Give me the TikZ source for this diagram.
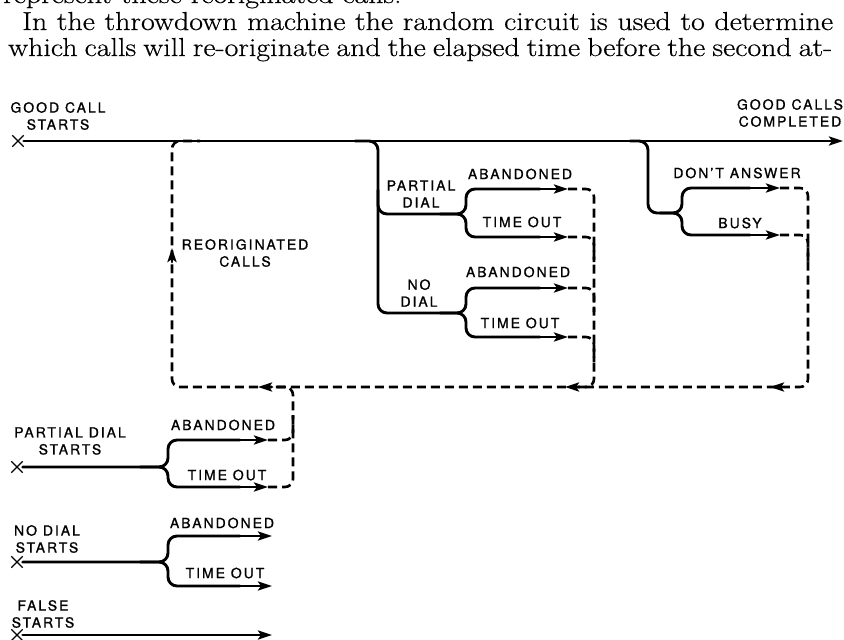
\documentclass[tikz,border=0pt]{standalone}
\usepackage{fontspec}
\newfontfamily\lab[LetterSpace=14,FakeBold=1.0]{TeX Gyre Heros}
\newfontfamily\bodyfont[FakeStretch=1.15,FakeBold=0.5]{Latin Modern Roman}
\usetikzlibrary{arrows.meta,shapes.misc}
\tikzset{
  solidline/.style={line width=2.9pt, line join=round, line cap=round},
  dashline/.style={line width=2.6pt, dash pattern=on 9pt off 5pt, rounded corners=8pt},
  tip/.style={-{Stealth[length=14pt,width=9pt,inset=3pt]}},
  lbl/.style={font=\lab\fontsize{14pt}{17pt}\selectfont, align=center, inner sep=0pt},
  xmark/.style={cross out, draw, minimum size=10pt, inner sep=0pt, line width=1.4pt},
  body/.style={anchor=base west, inner sep=0pt, font=\bodyfont\fontsize{26pt}{27pt}\selectfont}
}
\begin{document}
\begin{tikzpicture}[x=1pt,y=-1pt]
\useasboundingbox (0,0) rectangle (844,640);
\clip (0,0) rectangle (844,640);
% body text
\node[body] (t0) at (3,3) {represent these reoriginated calls.};
\node[body] (t1) at (22,30) {\makebox[811pt][s]{In the throwdown machine the random circuit is used to determine}};
\node[body] (t2) at (8,56) {\makebox[824pt][s]{which calls will re-originate and the elapsed time before the second at-}};

% ---------- main line ----------
\node[xmark] (x1) at (18,141) {};
\coordinate (gend) at (843,141);
\draw[solidline, tip] (x1.east) -- (gend);
\node[lbl] (lgs) at (58,116) {GOOD CALL\\STARTS};
\node[lbl] (lgc) at (790,113) {GOOD CALLS\\COMPLETED};

% ---------- middle branch ----------
\coordinate (pa) at (568,189);
\coordinate (pt) at (568,237);
\coordinate (na) at (568,288);
\coordinate (nt) at (568,337);
\draw[solidline, rounded corners=9pt] (355,141) -- (378,141) -- (378,313) -- (466,313) -- (466,288) -- (540,288);
\draw[solidline, tip] (530,288) -- (na);
\draw[solidline, rounded corners=9pt] (440,313) -- (466,313) -- (466,337) -- (540,337);
\draw[solidline, tip] (530,337) -- (nt);
\draw[solidline, rounded corners=9pt] (378,190) -- (378,214) -- (466,214) -- (466,189) -- (540,189);
\draw[solidline, tip] (530,189) -- (pa);
\draw[solidline, rounded corners=9pt] (440,214) -- (466,214) -- (466,237) -- (540,237);
\draw[solidline, tip] (530,237) -- (pt);
\node[lbl] (lpd) at (421,194) {PARTIAL\\DIAL};
\node[lbl] (lpa) at (520,174) {ABANDONED};
\node[lbl] (lpt) at (522,222) {TIME OUT};
\node[lbl] (lnd) at (419,293) {NO\\DIAL};
\node[lbl] (lna) at (518,272) {ABANDONED};
\node[lbl] (lnt) at (520,323) {TIME OUT};

% ---------- right branch ----------
\coordinate (da) at (780,188);
\coordinate (bu) at (780,235);
\draw[solidline, rounded corners=9pt] (630,141) -- (648,141) -- (648,213) -- (682,213) -- (682,188) -- (750,188);
\draw[solidline, tip] (740,188) -- (da);
\draw[solidline, rounded corners=9pt] (660,213) -- (682,213) -- (682,235) -- (750,235);
\draw[solidline, tip] (740,235) -- (bu);
\node[lbl] (lda) at (737,173) {DON’T ANSWER};
\node[lbl] (lbu) at (740,223) {BUSY};

% ---------- dashed returns ----------
\draw[dashline] (da) -- (808,188) -- (808,387) -- (172,387) -- (172,141) -- (200,141);
\draw[dashline] (bu) -- (808,235) -- (808,262);
\draw[dashline] (pa) -- (594,189) -- (594,387) -- (570,387);
\draw[dashline] (pt) -- (594,237) -- (594,262);
\draw[dashline] (na) -- (594,288) -- (594,312);
\draw[dashline] (nt) -- (594,337) -- (594,362);
\coordinate (ar1) at (770,387);
\coordinate (ar2) at (565,387);
\coordinate (ar3) at (258,387);
\coordinate (ar4) at (172,248);
\draw[solidline, tip] (784,387) -- (ar1);
\draw[solidline, tip] (579,387) -- (ar2);
\draw[solidline, tip] (272,387) -- (ar3);
\draw[solidline, tip] (172,262) -- (ar4);
\node[lbl] (lre) at (245,253) {REORIGINATED\\CALLS};

% ---------- partial dial starts ----------
\node[xmark] (x2) at (17,467) {};
\coordinate (qa) at (268,440);
\coordinate (qt) at (268,487);
\draw[solidline, rounded corners=9pt] (x2.east) -- (168,467) -- (168,440) -- (240,440);
\draw[solidline, tip] (230,440) -- (qa);
\draw[solidline, rounded corners=9pt] (140,467) -- (168,467) -- (168,487) -- (240,487);
\draw[solidline, tip] (230,487) -- (qt);
\draw[dashline] (qa) -- (293,440) -- (293,415);
\draw[dashline] (qt) -- (293,487) -- (293,387) -- (265,387);
\node[lbl] (lps) at (70,441) {PARTIAL DIAL\\STARTS};
\node[lbl] (lqa) at (223,425) {ABANDONED};
\node[lbl] (lqt) at (227,475) {TIME OUT};

% ---------- no dial starts ----------
\node[xmark] (x3) at (17,562) {};
\coordinate (ra) at (272,536);
\coordinate (rt) at (272,586);
\draw[solidline, rounded corners=9pt] (x3.east) -- (168,562) -- (168,536) -- (240,536);
\draw[solidline, tip] (230,536) -- (ra);
\draw[solidline, rounded corners=9pt] (140,562) -- (168,562) -- (168,586) -- (240,586);
\draw[solidline, tip] (230,586) -- (rt);
\node[lbl] (lns) at (47,539) {NO DIAL\\STARTS};
\node[lbl] (lra) at (222,523) {ABANDONED};
\node[lbl] (lrt) at (225,573) {TIME OUT};

% ---------- false starts ----------
\node[xmark] (x4) at (17,635) {};
\coordinate (fa) at (272,635);
\draw[solidline, tip] (x4.east) -- (fa);
\node[lbl] (lfs) at (43,614) {FALSE\\STARTS};
\end{tikzpicture}
\end{document}
